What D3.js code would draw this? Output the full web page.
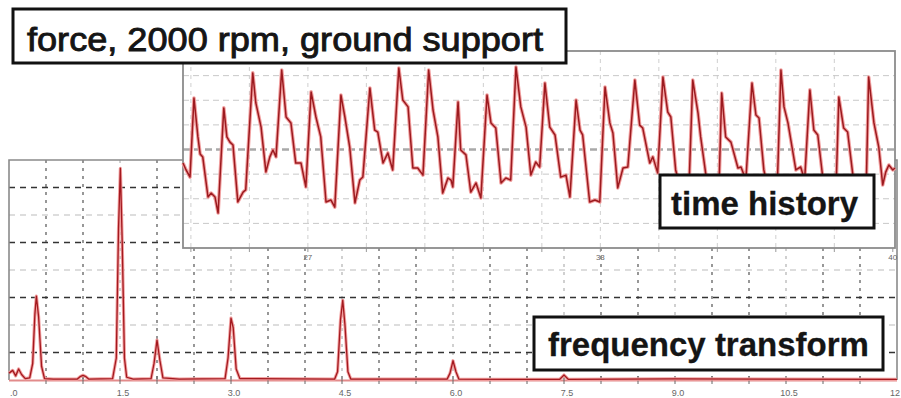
<!DOCTYPE html>
<html>
<head>
<meta charset="utf-8">
<script src="https://cdn.jsdelivr.net/npm/d3@7"></script>
<style>
  html, body { margin: 0; padding: 0; background: #fff; }
  svg { display: block; font-family: "Liberation Sans", Arial, sans-serif; }
  .tick-label { fill: #666; font-size: 9px; }
</style>
</head>
<body>
<div id="chart"></div>
<script>
// ---------- Data ----------
// frequency transform: [frequency, amplitude]
const spectrum = [
  [0.00, 0.25], [0.05, 0.35], [0.09, 0.15], [0.13, 0.40], [0.17, 0.20], [0.22, 0.05],
  [0.28, 0.08], [0.32, 0.60], [0.35, 2.40], [0.37, 3.05], [0.40, 2.30], [0.44, 0.50],
  [0.48, 0.05], [0.60, 0.03], [0.92, 0.03], [0.96, 0.12], [1.00, 0.17], [1.04, 0.12],
  [1.08, 0.03], [1.40, 0.05], [1.45, 0.80], [1.48, 5.50], [1.505, 7.70], [1.53, 5.00],
  [1.56, 0.80], [1.59, 0.10], [1.68, 0.03], [1.92, 0.05], [1.96, 0.60], [2.00, 1.45],
  [2.04, 0.70], [2.08, 0.08], [2.30, 0.03], [2.92, 0.05], [2.96, 0.80], [3.00, 2.25],
  [3.03, 1.90], [3.07, 0.40], [3.12, 0.05], [4.40, 0.03], [4.44, 0.30], [4.48, 2.20],
  [4.51, 2.90], [4.54, 2.00], [4.58, 0.30], [4.62, 0.03], [5.92, 0.03], [5.96, 0.25],
  [6.00, 0.70], [6.04, 0.30], [6.08, 0.03], [7.44, 0.02], [7.50, 0.18], [7.56, 0.02],
  [9.00, 0.04], [12.0, 0.02]
]
const freqTicks = [0, 1.5, 3, 4.5, 6, 7.5, 9, 10.5, 12]
const freqTickLabels = ['.0', '1.5', '3.0', '4.5', '6.0', '7.5', '9.0', '10.5', '12']

// time history: [time, force]
const history = [
  [23.82, -0.55], [23.89, -0.83], [23.98, -1.12], [24.07, 2.09], [24.16, 0.51], [24.21, -0.18],
  [24.27, -0.30], [24.39, -1.93], [24.46, -1.77], [24.55, -1.93], [24.62, -2.58], [24.75, 1.69],
  [24.82, 0.51], [24.89, 0.30], [24.96, 0.18], [25.07, -2.13], [25.19, -1.73], [25.25, -1.64],
  [25.41, 3.11], [25.48, 1.89], [25.60, 0.91], [25.71, -0.91], [25.80, -0.30], [25.87, -0.02],
  [25.94, -0.30], [26.07, 3.23], [26.17, 1.32], [26.28, 1.08], [26.39, -0.55], [26.51, -0.55],
  [26.62, -1.52], [26.74, 2.34], [26.85, 1.32], [26.96, 0.51], [27.08, -2.13], [27.19, -2.05],
  [27.28, -2.34], [27.42, 2.21], [27.51, 1.32], [27.62, 0.10], [27.74, -2.17], [27.85, -1.24],
  [27.92, -1.12], [28.08, 2.50], [28.19, 0.79], [28.26, 0.71], [28.38, -0.55], [28.49, -0.14],
  [28.60, -0.83], [28.74, 3.31], [28.83, 2.01], [28.95, 1.73], [29.06, -0.75], [29.17, -0.75],
  [29.29, -1.04], [29.42, 3.23], [29.52, 1.60], [29.63, 0.51], [29.74, -1.77], [29.86, -1.16],
  [29.93, -1.24], [29.97, -1.52], [30.09, 1.93], [30.15, -0.02], [30.27, -0.22], [30.38, -1.73],
  [30.50, -1.36], [30.61, -1.97], [30.75, 2.21], [30.84, 1.08], [30.95, 0.87], [31.07, -1.36],
  [31.18, -1.16], [31.29, -1.24], [31.41, 3.35], [31.52, 1.73], [31.64, 0.91], [31.75, -1.04],
  [31.86, -0.51], [31.95, -0.71], [32.07, 2.70], [32.18, 0.91], [32.30, 0.59], [32.43, -1.12],
  [32.55, -1.04], [32.64, -1.93], [32.78, 2.01], [32.87, 0.79], [32.93, 0.59], [33.09, -2.13],
  [33.21, -2.05], [33.32, -2.13], [33.44, 2.54], [33.55, 1.08], [33.62, 0.67], [33.73, -1.56],
  [33.85, -0.75], [33.96, -0.71], [34.12, 2.82], [34.23, 0.99], [34.30, 0.87], [34.46, -0.55],
  [34.53, -0.30], [34.64, -0.95], [34.76, 2.94], [34.87, 1.52], [34.94, 1.32], [35.05, -0.83],
  [35.17, -1.64], [35.28, -1.44], [35.35, -1.73], [35.44, 2.82], [35.56, 1.48], [35.62, 0.51],
  [35.74, -1.04], [35.85, -1.85], [35.97, -1.73], [36.03, -1.97], [36.10, 2.29], [36.19, 0.51],
  [36.31, 0.30], [36.47, -0.75], [36.54, -0.71], [36.65, -1.24], [36.79, 2.70], [36.88, 1.40],
  [36.95, 1.28], [37.06, -0.83], [37.17, -1.73], [37.29, -1.56], [37.36, -1.85], [37.45, 3.23],
  [37.52, 1.73], [37.61, 1.08], [37.79, -0.83], [37.90, -0.71], [37.99, -1.24], [38.11, 2.42],
  [38.20, 0.79], [38.29, 0.59], [38.41, -1.24], [38.52, -1.85], [38.63, -1.64], [38.70, -1.97],
  [38.77, 2.13], [38.88, 0.87], [38.97, 0.71], [39.09, -1.04], [39.20, -1.64], [39.32, -1.56],
  [39.39, -1.85], [39.45, 2.94], [39.57, 1.08], [39.68, 0.10], [39.77, -1.44], [39.84, -0.91],
  [39.91, -0.63], [40.00, -0.83], [40.05, -0.75]
]
const timeTicks = [80 / 3, 100 / 3, 40]
const timeTickLabels = ['27', '33', '40']

const titleText = 'force, 2000 rpm, ground support'
const timeLabel = 'time history'
const freqLabel = 'frequency transform'

// ---------- Layout ----------
const W = 901
const H = 398
const freqBox = { left: 9, right: 897, top: 160, bottom: 380 }
const timeBox = { left: 183, right: 895, top: 51, bottom: 248 }

const svg = d3.select('#chart').append('svg').attr('width', W).attr('height', H)

// ---------- Frequency panel ----------
const fx = d3.scaleLinear().domain([0, 12]).range([freqBox.left, freqBox.right])
const fy = d3.scaleLinear().domain([0, 8]).range([freqBox.bottom, freqBox.top])

const fg = svg.append('g')
fg.append('rect')
  .attr('x', freqBox.left).attr('y', freqBox.top)
  .attr('width', freqBox.right - freqBox.left).attr('height', freqBox.bottom - freqBox.top)
  .attr('fill', '#fff')

// vertical grid every 0.5, lighter at the labelled ticks
const fVert = d3.range(1, 24).map(i => i * 0.5)
fg.selectAll('.fv').data(fVert).join('line')
  .attr('x1', d => fx(d)).attr('x2', d => fx(d))
  .attr('y1', freqBox.top).attr('y2', freqBox.bottom)
  .attr('stroke', d => (d % 1.5 === 0 ? '#aaa' : '#444'))
  .attr('stroke-width', 1.1)
  .attr('stroke-dasharray', '3,5')

// horizontal grid: odd levels dark, even levels light
fg.selectAll('.fh').data(d3.range(1, 8)).join('line')
  .attr('x1', freqBox.left).attr('x2', freqBox.right)
  .attr('y1', d => fy(d)).attr('y2', d => fy(d))
  .attr('stroke', d => (d % 2 ? '#333' : '#bbb'))
  .attr('stroke-width', d => (d % 2 ? 1.3 : 1))
  .attr('stroke-dasharray', '6,5')

// frame
fg.append('path')
  .attr('d', `M${freqBox.left},${freqBox.bottom}V${freqBox.top}H${freqBox.right}V${freqBox.bottom}`)
  .attr('fill', 'none').attr('stroke', '#8a8a8a').attr('stroke-width', 1.6)

// bottom axis ticks (+ marks)
fg.append('line')
  .attr('x1', freqBox.left).attr('x2', freqBox.right)
  .attr('y1', freqBox.bottom + 0.5).attr('y2', freqBox.bottom + 0.5)
  .attr('stroke', '#e28b8b').attr('stroke-width', 2)
fg.selectAll('.ftick').data(fVert).join('line')
  .attr('x1', d => fx(d)).attr('x2', d => fx(d))
  .attr('y1', freqBox.bottom - 4).attr('y2', freqBox.bottom + 4)
  .attr('stroke', '#666').attr('stroke-width', 1)

fg.selectAll('.flabel').data(freqTicks).join('text')
  .attr('class', 'tick-label')
  .attr('x', (d, i) => (i === 0 ? fx(d) + 1 : i === freqTicks.length - 1 ? 900 : fx(d) + 3))
  .attr('y', 396)
  .attr('text-anchor', (d, i) => (i === 0 ? 'start' : i === freqTicks.length - 1 ? 'end' : 'middle'))
  .text((d, i) => freqTickLabels[i])

const fline = d3.line().x(d => fx(d[0])).y(d => fy(d[1]))
fg.append('path').datum(spectrum)
  .attr('d', fline).attr('fill', 'none')
  .attr('stroke', '#f2a0a0').attr('stroke-width', 3.2).attr('stroke-linejoin', 'round')
fg.append('path').datum(spectrum)
  .attr('d', fline).attr('fill', 'none')
  .attr('stroke', '#a3191f').attr('stroke-width', 1.3).attr('stroke-linejoin', 'round')

// ---------- Time history panel ----------
const tx = d3.scaleLinear().domain([23.82, 40.05]).range([timeBox.left, timeBox.right])
const ty = d3.scaleLinear().domain([-4, 4]).range([timeBox.bottom, timeBox.top])

const tg = svg.append('g')
tg.append('rect')
  .attr('x', timeBox.left).attr('y', timeBox.top)
  .attr('width', timeBox.right - timeBox.left).attr('height', timeBox.bottom - timeBox.top)
  .attr('fill', '#fff')

const tVert = d3.range(0, 12).map(k => 24 + k * 4 / 3)
tg.selectAll('.tv').data(tVert).join('line')
  .attr('x1', d => tx(d)).attr('x2', d => tx(d))
  .attr('y1', timeBox.top).attr('y2', timeBox.bottom)
  .attr('stroke', '#cfcfcf').attr('stroke-width', 1)
  .attr('stroke-dasharray', '4,4')

tg.selectAll('.th').data(d3.range(-3, 4)).join('line')
  .attr('x1', timeBox.left).attr('x2', timeBox.right)
  .attr('y1', d => ty(d)).attr('y2', d => ty(d))
  .attr('stroke', d => (d === 0 ? '#a9a9a9' : '#c8c8c8'))
  .attr('stroke-width', d => (d === 0 ? 2.4 : 1))
  .attr('stroke-dasharray', d => (d === 0 ? '7,4' : '6,4'))

tg.selectAll('.ttick').data(tVert.concat([40])).join('line')
  .attr('x1', d => tx(d)).attr('x2', d => tx(d))
  .attr('y1', timeBox.bottom).attr('y2', timeBox.bottom + 4)
  .attr('stroke', '#999').attr('stroke-width', 1)

tg.append('rect')
  .attr('x', timeBox.left).attr('y', timeBox.top)
  .attr('width', timeBox.right - timeBox.left).attr('height', timeBox.bottom - timeBox.top)
  .attr('fill', 'none').attr('stroke', '#8c8c8c').attr('stroke-width', 1.8)

tg.selectAll('.tlabel').data(timeTicks).join('text')
  .attr('class', 'tick-label')
  .style('font-size', '8px')
  .attr('x', d => tx(d))
  .attr('y', 260)
  .attr('text-anchor', 'middle')
  .text((d, i) => timeTickLabels[i])

const tline = d3.line().x(d => tx(d[0])).y(d => ty(d[1]))
tg.append('path').datum(history)
  .attr('d', tline).attr('fill', 'none')
  .attr('stroke', '#f2a0a0').attr('stroke-width', 3.6).attr('stroke-linejoin', 'round')
tg.append('path').datum(history)
  .attr('d', tline).attr('fill', 'none')
  .attr('stroke', '#9c1a1f').attr('stroke-width', 1.5).attr('stroke-linejoin', 'round')

// ---------- Label boxes ----------
function labelBox (x, y, w, h, text, opts) {
  const g = svg.append('g')
  g.append('rect')
    .attr('x', x).attr('y', y).attr('width', w).attr('height', h)
    .attr('fill', '#fff').attr('stroke', '#111').attr('stroke-width', 3)
  const t = g.append('text')
    .attr('x', opts.tx).attr('y', opts.ty)
    .attr('fill', '#151515')
    .attr('stroke', '#151515')
    .attr('stroke-width', opts.thicken)
    .style('font-size', `${opts.size}px`)
    .style('font-weight', opts.weight)
    .text(text)
  if (opts.len) t.attr('textLength', opts.len).attr('lengthAdjust', 'spacingAndGlyphs')
}

labelBox(13, 9, 553, 54, titleText, { tx: 27, ty: 51, size: 33, weight: 'normal', len: 516, thicken: 0.9 })
labelBox(660, 175, 214, 53, timeLabel, { tx: 671, ty: 215, size: 33, weight: 'bold', thicken: 0.3 })
labelBox(534, 317, 349, 53, freqLabel, { tx: 548, ty: 356, size: 33, weight: 'bold', thicken: 0.3 })
</script>
</body>
</html>
